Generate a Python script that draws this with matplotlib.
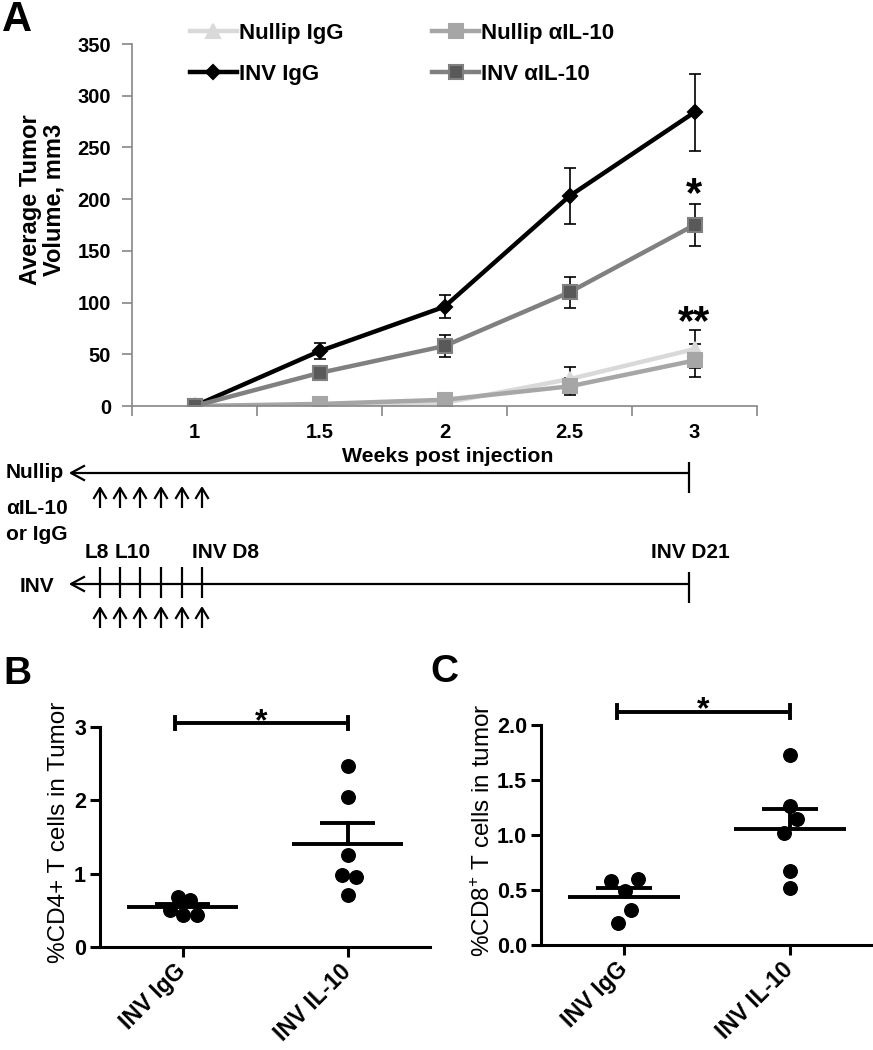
import matplotlib
matplotlib.use("Agg")
import matplotlib.pyplot as plt
import numpy as np

plt.rcParams['font.family'] = ['Liberation Sans', 'DejaVu Sans']
plt.rcParams['mathtext.fontset'] = 'custom'
plt.rcParams['mathtext.rm'] = 'Liberation Sans'
plt.rcParams['mathtext.bf'] = 'Liberation Sans:bold'

W, H = 873, 1050

# ---- Panel A data: average tumor volume (mm3) ----
weeks = ['1', '1.5', '2', '2.5', '3']
nullip_igg = [0, 1, 3, 26, 55]
nullip_igg_err = [0, 1, 2, 12, 18]
nullip_il10 = [0, 2, 6, 19, 44]
nullip_il10_err = [0, 1, 2, 8, 16]
inv_igg = [0, 53, 96, 203, 284]
inv_igg_err = [0, 8, 11, 27, 37]
inv_il10 = [0, 32, 58, 110, 175]
inv_il10_err = [0, 4, 11, 15, 20]

# ---- Panel B data: %CD4+ T cells in tumor ----
groups = ['INV IgG', 'INV IL-10']
cd4_igg = [0.68, 0.64, 0.51, 0.44, 0.44]
cd4_il10 = [2.47, 2.05, 1.25, 0.98, 0.96, 0.71]
cd4_igg_jit = [-0.03, 0.044, -0.075, 0.004, 0.087]
cd4_il10_jit = [0, 0, 0, -0.036, 0.05, 0]

# ---- Panel C data: %CD8+ T cells in tumor ----
cd8_igg = [0.58, 0.60, 0.49, 0.32, 0.20]
cd8_il10 = [1.73, 1.26, 1.15, 1.02, 0.67, 0.52]
cd8_igg_jit = [-0.077, 0.085, 0.004, 0.044, -0.036]
cd8_il10_jit = [0, 0, 0.04, -0.036, 0, 0]

# timeline schematic (pixel positions in the figure)
inj_x = [100, 120, 140, 161, 182, 202]
end_x = 689


def box(l, t, r, b):
    return [l / W, 1 - b / H, (r - l) / W, (b - t) / H]


def star(axis, xv, yv, txt, size):
    # put the asterisk glyph centre on (xv, yv)
    axis.annotate(txt, (xv, yv), xytext=(0, -0.575 * size), textcoords='offset points',
                  ha='center', va='baseline', fontsize=size, fontweight='bold',
                  annotation_clip=False)


fig = plt.figure(figsize=(W / 100, H / 100), dpi=100)

# overlay axes in pixel units for schematic and panel letters
ov = fig.add_axes([0, 0, 1, 1])
ov.set_xlim(0, W)
ov.set_ylim(H, 0)
ov.axis('off')

# ================= Panel A =================
ax = fig.add_axes(box(132, 44, 757, 406))
x = np.arange(len(weeks))
series = [
    (nullip_igg, nullip_igg_err, 'Nullip IgG', '#d9d9d9', '^', '#d9d9d9', '#d9d9d9', 10),
    (nullip_il10, nullip_il10_err, 'Nullip αIL-10', '#a6a6a6', 's', '#a6a6a6', '#a6a6a6', 10.5),
    (inv_igg, inv_igg_err, 'INV IgG', 'black', 'D', 'black', 'black', 7.5),
    (inv_il10, inv_il10_err, 'INV αIL-10', '#808080', 's', '#595959', '#808080', 10.5),
]
handles = {}
for vals, err, lab, col, mk, mfc, mec, ms in series:
    ax.errorbar(x, vals, yerr=err, fmt='none', ecolor='black', elinewidth=1.2,
                capsize=4, capthick=1.2, zorder=1)
    h, = ax.plot(x, vals, color=col, lw=3.2, marker=mk, ms=ms, mfc=mfc, mec=mec,
                 mew=1.5, label=lab, zorder=2)
    handles[lab] = h

ax.set_xlim(-0.5, 4.5)
ax.set_ylim(0, 350)
ax.set_yticks(np.arange(0, 351, 50))
ax.set_xticks(np.arange(-0.5, 4.6, 1))
ax.set_xticklabels([])
ax.set_xticks(x, minor=True)
ax.set_xticklabels(weeks, minor=True)
ax.tick_params(axis='x', which='major', length=7, width=1.2, color='#868686', direction='out')
ax.tick_params(axis='x', which='minor', length=0, pad=12, labelsize=14.5)
ax.tick_params(axis='y', length=7, width=1.2, color='#868686', direction='out', pad=8,
               labelsize=14.5)
for lbl in ax.get_xticklabels(minor=True) + ax.get_yticklabels():
    lbl.set_fontweight('bold')
for s in ['top', 'right']:
    ax.spines[s].set_visible(False)
for s in ['left', 'bottom']:
    ax.spines[s].set_color('#868686')
    ax.spines[s].set_linewidth(1.2)

star(ax, 4, 216, '*', 30)
star(ax, 4, 93, '**', 30)

leg_order = ['Nullip IgG', 'INV IgG', 'Nullip αIL-10', 'INV αIL-10']
ax.legend([handles[k] for k in leg_order], leg_order, ncol=2, frameon=False,
          loc='upper left', bbox_to_anchor=(190 / W, 1 - 23 / H),
          bbox_transform=fig.transFigure, borderpad=0, borderaxespad=0,
          handlelength=2.1, handletextpad=0.1, columnspacing=4.0, labelspacing=0.9,
          prop={'weight': 'bold', 'size': 16})

fig.text(42 / W, 1 - 200 / H, 'Average Tumor\nVolume, mm3', rotation=90, ha='center',
         va='center', fontsize=17, fontweight='bold', linespacing=1.05)
fig.text(448 / W, 1 - 457 / H, 'Weeks post injection', ha='center', va='center',
         fontsize=15.3, fontweight='bold')

# ---- timeline schematic ----
lk = dict(color='black', lw=1.6, solid_capstyle='butt')
for yl, tick_span in [(473, (462, 493)), (584, (572, 603))]:
    ov.plot([71, end_x], [yl, yl], **lk)
    ov.plot([84, 71, 84], [yl - 7, yl, yl + 7], color='black', lw=1.6)
    ov.plot([end_x, end_x], tick_span, **lk)
for xi in inj_x:
    ov.plot([xi, xi], [567, 598], **lk)
    for y0 in (488, 608):
        ov.plot([xi, xi], [y0, y0 + 20], **lk)
        ov.plot([xi - 6, xi, xi + 6], [y0 + 10, y0, y0 + 10], color='black', lw=1.6)

tk = dict(fontsize=15, fontweight='bold', va='center')
ov.text(6, 473, 'Nullip', ha='left', **tk)
ov.text(6, 508, 'αIL-10', ha='left', **tk)
ov.text(6, 535, 'or IgG', ha='left', **tk)
ov.text(20, 587, 'INV', ha='left', **tk)
ov.text(85, 553, 'L8', ha='left', **tk)
ov.text(115, 553, 'L10', ha='left', **tk)
ov.text(192, 553, 'INV D8', ha='left', **tk)
ov.text(651, 553, 'INV D21', ha='left', **tk)

# panel letters
ov.text(2, 20, 'A', fontsize=30, fontweight='bold', va='center', ha='left')
ov.text(3, 674, 'B', fontsize=28, fontweight='bold', va='center', ha='left')
ov.text(430, 672, 'C', fontsize=28, fontweight='bold', va='center', ha='left')


# ================= Panels B & C =================
def dot_panel(rect, a_vals, b_vals, a_jit, b_jit, ylim, yticks, fmt, ylabel, sig_y, cap_h,
              lab_x):
    bx = fig.add_axes(rect)
    for i, (vals, jit) in enumerate([(a_vals, a_jit), (b_vals, b_jit)]):
        vals = np.array(vals)
        bx.scatter(i + np.array(jit), vals, s=95, color='black', zorder=3, clip_on=False)
        m = vals.mean()
        sem = vals.std(ddof=1) / np.sqrt(len(vals))
        bx.plot([i - 0.335, i + 0.335], [m, m], color='black', lw=2.8, solid_capstyle='butt')
        bx.plot([i, i], [m, m + sem], color='black', lw=2.8)
        bx.plot([i - 0.167, i + 0.167], [m + sem, m + sem], color='black', lw=2.8,
                solid_capstyle='butt')
    # significance bar
    bx.plot([-0.045, 1.0], [sig_y, sig_y], color='black', lw=2.8, clip_on=False,
            solid_capstyle='butt')
    for xe in (-0.045, 1.0):
        bx.plot([xe, xe], [sig_y - cap_h, sig_y + cap_h], color='black', lw=2.8,
                clip_on=False)
    bx.annotate('*', (0.475, sig_y), xytext=(0, -5), textcoords='offset points',
                ha='center', va='baseline', fontsize=23, fontweight='bold',
                annotation_clip=False)
    bx.set_xlim(-0.5, 1.5)
    bx.set_ylim(*ylim)
    bx.set_yticks(yticks)
    bx.set_yticklabels([fmt.format(t) for t in yticks], fontweight='bold', fontsize=15.5)
    bx.set_xticks([0, 1])
    bx.set_xticklabels(groups, rotation=45, ha='right', va='center', rotation_mode='anchor',
                       fontweight='bold', fontsize=16.5)
    bx.tick_params(axis='both', length=7, width=2.2, direction='out', pad=3)
    bx.tick_params(axis='x', pad=8)
    for s in ['top', 'right']:
        bx.spines[s].set_visible(False)
    for s in ['left', 'bottom']:
        bx.spines[s].set_linewidth(2.2)
    l, b, w, h = rect
    fig.text(lab_x / W, b + h * 0.52, ylabel, rotation=90, ha='center', va='center',
             fontsize=17.5)
    return bx


dot_panel(box(100, 727, 430, 947), cd4_igg, cd4_il10, cd4_igg_jit, cd4_il10_jit,
          (0, 3), [0, 1, 2, 3], '{:.0f}', '%CD4+ T cells in Tumor', 3.055, 0.085, 59)
dot_panel(box(541, 725, 873, 945), cd8_igg, cd8_il10, cd8_igg_jit, cd8_il10_jit,
          (0, 2), [0, 0.5, 1.0, 1.5, 2.0], '{:.1f}',
          r'%CD8$^{+}$ T cells in tumor', 2.12, 0.06, 483)

fig.savefig('out.png', dpi=100)
